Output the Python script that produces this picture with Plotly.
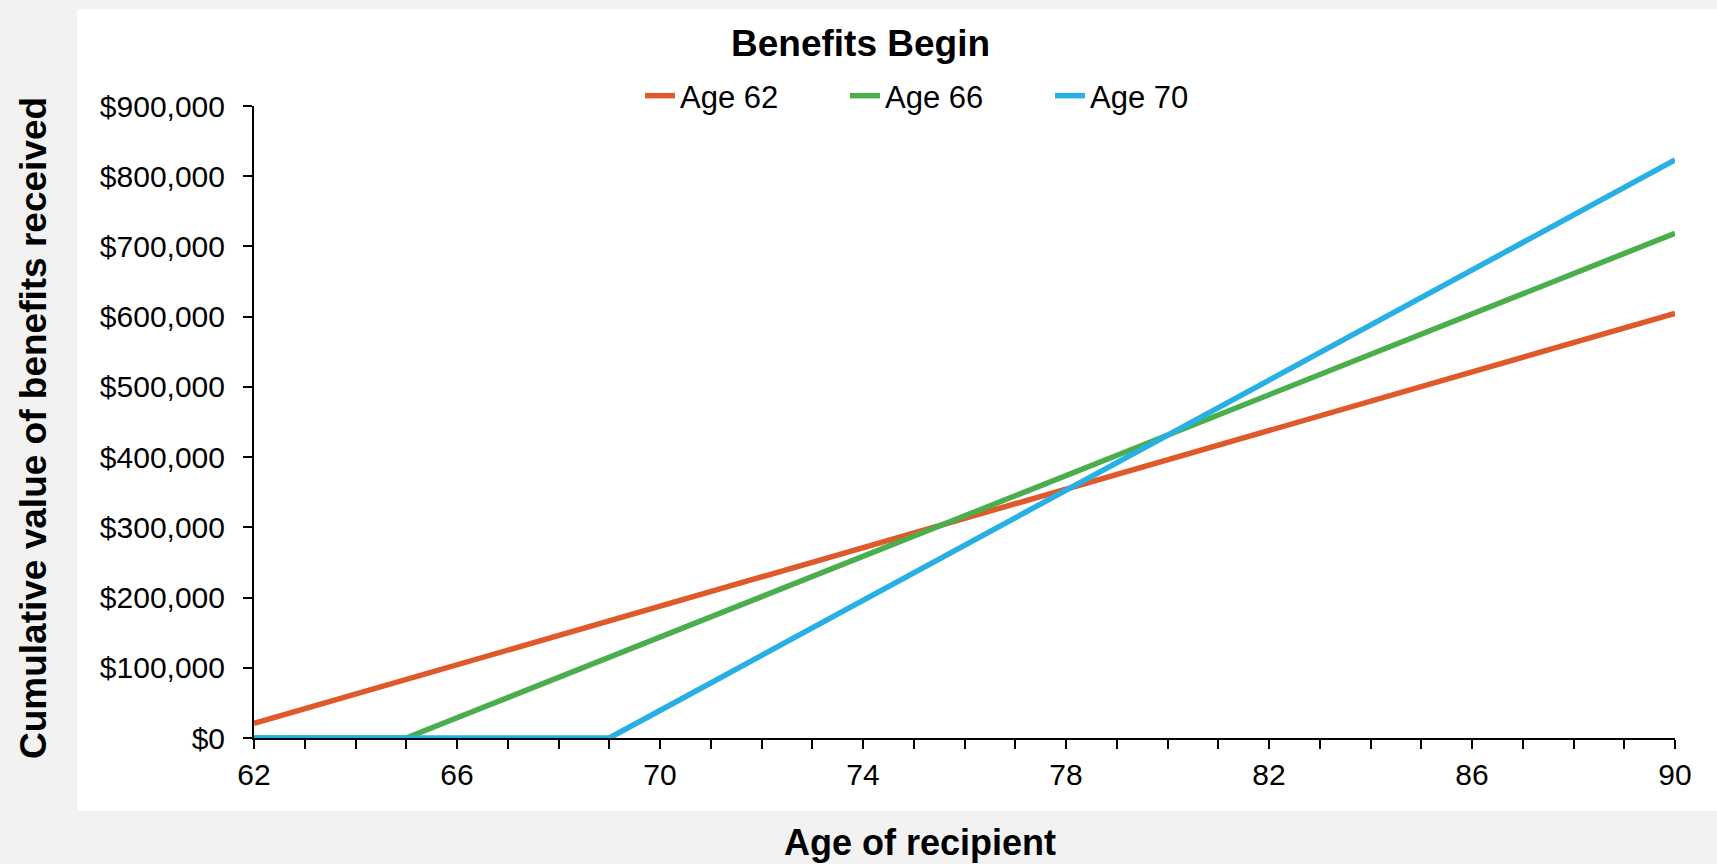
import plotly.graph_objects as go

# Age of recipient (x axis)
ages = list(range(62, 91))

# Cumulative benefits received, by the age benefits begin
age62_values = [20850, 41700, 62550, 83400, 104250, 125100, 145950, 166800,
                187650, 208500, 229350, 250200, 271050, 291900, 312750, 333600,
                354450, 375300, 396150, 417000, 437850, 458700, 479550, 500400,
                521250, 542100, 562950, 583800, 604650]
age66_values = [0, 0, 0, 0, 28750, 57500, 86250, 115000, 143750, 172500,
                201250, 230000, 258750, 287500, 316250, 345000, 373750, 402500,
                431250, 460000, 488750, 517500, 546250, 575000, 603750, 632500,
                661250, 690000, 718750]
age70_values = [0, 0, 0, 0, 0, 0, 0, 0, 39200, 78400, 117600, 156800, 196000,
                235200, 274400, 313600, 352800, 392000, 431200, 470400, 509600,
                548800, 588000, 627200, 666400, 705600, 744800, 784000, 823200]

series_names = ["Age 62", "Age 66", "Age 70"]
series_values = [age62_values, age66_values, age70_values]
series_colors = ["#E0592A", "#4BAE4C", "#27B0E4"]

x_tick_labels = [62, 66, 70, 74, 78, 82, 86, 90]
y_tick_values = list(range(0, 900001, 100000))
y_tick_labels = ["${:,}".format(v) for v in y_tick_values]

FONT = "Liberation Sans, Arial, sans-serif"

fig = go.Figure()
for name, vals, color in zip(series_names, series_values, series_colors):
    fig.add_trace(go.Scatter(
        x=ages, y=vals, name=name, mode="lines",
        line=dict(color=color, width=5.5),
    ))

W, H = 1717, 864
ml, mr, mt, mb = 254, 42, 106, 126
pw, ph = W - ml - mr, H - mt - mb


def px_to_paper_x(px):
    return (px - ml) / pw


def px_to_paper_y(py):
    return (H - mb - py) / ph


fig.update_layout(
    width=W, height=H,
    margin=dict(l=ml, r=mr, t=mt, b=mb, pad=0),
    paper_bgcolor="#F2F2F2",
    plot_bgcolor="#FFFFFF",
    font=dict(family=FONT, color="#000000", size=30),
    showlegend=True,
    legend=dict(
        orientation="h",
        x=px_to_paper_x(640), xanchor="left",
        y=px_to_paper_y(96), yanchor="middle",
        font=dict(size=31, family=FONT, color="#000000"),
        bgcolor="rgba(0,0,0,0)",
        entrywidth=160, entrywidthmode="pixels",
        itemclick=False, itemdoubleclick=False,
    ),
    shapes=[dict(
        type="rect", xref="paper", yref="paper", layer="below",
        x0=px_to_paper_x(77), x1=px_to_paper_x(1720),
        y0=px_to_paper_y(811), y1=px_to_paper_y(9),
        fillcolor="#FFFFFF", line=dict(width=0),
    )],
    annotations=[
        dict(text="<b>Benefits Begin</b>", xref="paper", yref="paper",
             x=px_to_paper_x(860), y=px_to_paper_y(44),
             xanchor="center", yanchor="middle", showarrow=False,
             font=dict(size=37, family=FONT, color="#000000")),
        dict(text="<b>Age of recipient</b>", xref="paper", yref="paper",
             x=px_to_paper_x(920), y=px_to_paper_y(842),
             xanchor="center", yanchor="middle", showarrow=False,
             font=dict(size=36, family=FONT, color="#000000")),
        dict(text="<b>Cumulative value of benefits received</b>",
             xref="paper", yref="paper", textangle=-90,
             x=px_to_paper_x(33), y=px_to_paper_y(428),
             xanchor="center", yanchor="middle", showarrow=False,
             font=dict(size=37, family=FONT, color="#000000")),
    ],
)

fig.update_xaxes(
    range=[62, 90], showgrid=False, zeroline=False,
    showline=True, linecolor="#000000", linewidth=2,
    tickmode="array", tickvals=ages,
    ticktext=[str(a) if a in x_tick_labels else "" for a in ages],
    ticks="outside", ticklen=9, tickwidth=2, tickcolor="#000000",
    ticklabelstandoff=0,
    tickfont=dict(size=30, family=FONT, color="#000000"),
)
fig.update_yaxes(
    range=[0, 900000], showgrid=False, zeroline=False,
    showline=True, linecolor="#000000", linewidth=2,
    tickmode="array", tickvals=y_tick_values, ticktext=y_tick_labels,
    ticks="outside", ticklen=9, tickwidth=2, tickcolor="#000000",
    ticklabelstandoff=12,
    tickfont=dict(size=30, family=FONT, color="#000000"),
)

fig.write_html("out.html")
